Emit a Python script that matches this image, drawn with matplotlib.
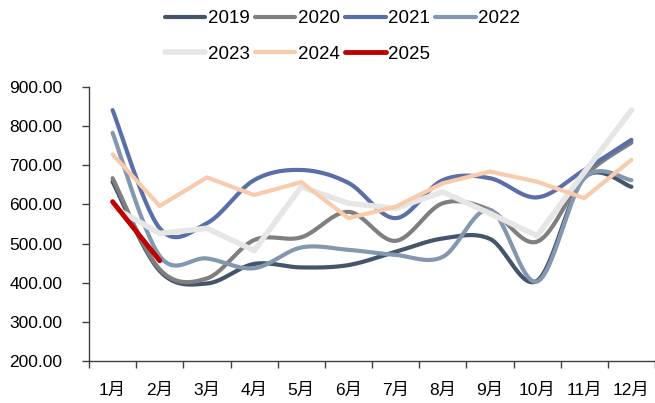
import numpy as np
import matplotlib
matplotlib.use("Agg")
import matplotlib.pyplot as plt
from matplotlib.lines import Line2D

plt.rcParams['font.family'] = ['Liberation Sans', 'Noto Sans CJK SC', 'DejaVu Sans']

months = ["1月", "2月", "3月", "4月", "5月", "6月", "7月", "8月", "9月", "10月", "11月", "12月"]

v2019 = [658, 430, 398, 448, 439, 445, 479, 513, 512, 405, 668, 645]
v2020 = [667, 434, 411, 509, 516, 581, 507, 603, 586, 505, 671, 758]
v2021 = [841, 539, 552, 662, 688, 655, 565, 662, 667, 618, 688, 765]
v2022 = [783, 468, 462, 437, 490, 484, 471, 466, 586, 403, 667, 662]
v2023 = [594, 526, 539, 482, 645, 603, 590, 632, 577, 520, 682, 841]
v2024 = [728, 596, 669, 624, 657, 565, 594, 654, 684, 658, 616, 714]
v2025 = [607, 456]

series = [
    ("2019", v2019, "#44546A", 3.0, True),
    ("2020", v2020, "#7F7F7F", 3.0, True),
    ("2021", v2021, "#5A6FA8", 3.0, True),
    ("2022", v2022, "#8497B0", 3.0, True),
    ("2023", v2023, "#E7E6E6", 4.0, False),
    ("2024", v2024, "#F8CBAD", 3.0, False),
    ("2025", v2025, "#C00000", 3.5, False),
]


def smooth(xs, ys, n=30):
    """Bezier smoothing through the points (control points at P_i +/- (P_i+1 - P_i-1)/6)."""
    xs = np.asarray(xs, float)
    ys = np.asarray(ys, float)
    px = np.concatenate([[xs[0]], xs, [xs[-1]]])
    py = np.concatenate([[ys[0]], ys, [ys[-1]]])
    outx, outy = [], []
    t = np.linspace(0, 1, n)
    for i in range(1, len(px) - 2):
        p0 = np.array([px[i], py[i]])
        p3 = np.array([px[i + 1], py[i + 1]])
        c1 = p0 + (np.array([px[i + 1], py[i + 1]]) - np.array([px[i - 1], py[i - 1]])) / 6
        c2 = p3 - (np.array([px[i + 2], py[i + 2]]) - np.array([px[i], py[i]])) / 6
        b = ((1 - t) ** 3)[:, None] * p0 + (3 * (1 - t) ** 2 * t)[:, None] * c1 \
            + (3 * (1 - t) * t ** 2)[:, None] * c2 + (t ** 3)[:, None] * p3
        outx.extend(b[:, 0])
        outy.extend(b[:, 1])
    return np.array(outx), np.array(outy)


fig = plt.figure(figsize=(6.55, 4.03), dpi=100)
ax = fig.add_axes([89 / 655, 42 / 403, 566 / 655, 274 / 403])

handles = {}
for name, vals, color, lw, smoothed in series:
    x = np.arange(len(vals))
    if smoothed:
        sx, sy = smooth(x, vals)
    else:
        sx, sy = x, np.asarray(vals, float)
    ax.plot(sx, sy, color=color, lw=lw, solid_capstyle='round', solid_joinstyle='round')
    handles[name] = Line2D([], [], color=color, lw=lw, solid_capstyle='round')

ax.set_ylim(200, 900)
ax.set_yticks(np.arange(200, 901, 100))
ax.set_yticklabels([f"{v:.2f}" for v in range(200, 901, 100)])
ax.set_xlim(-0.5, 11.39)
ax.set_xticks(range(12))
ax.set_xticklabels(months)
ax.set_xticks(np.arange(-0.5, 12, 1), minor=True)

for s in ["top", "right"]:
    ax.spines[s].set_visible(False)
for s in ["left", "bottom"]:
    ax.spines[s].set_color("#404040")
    ax.spines[s].set_linewidth(1.0)

ax.tick_params(axis='y', which='major', length=5, width=1, color="#404040", labelsize=12.5, pad=14)
ax.tick_params(axis='x', which='major', length=0, labelsize=12.5, pad=16)
ax.tick_params(axis='x', which='minor', length=5, width=1, color="#404040")

order = ["2019", "2023", "2020", "2024", "2021", "2025", "2022"]
fig.legend([handles[k] for k in order], order, ncol=4, loc='upper left',
           bbox_to_anchor=(165 / 655, 1 - 10 / 403), frameon=False, fontsize=13.5,
           borderpad=0, borderaxespad=0,
           handlelength=2.15, handletextpad=0.12, columnspacing=0.3, labelspacing=1.0)

fig.savefig("out.png", dpi=100)
